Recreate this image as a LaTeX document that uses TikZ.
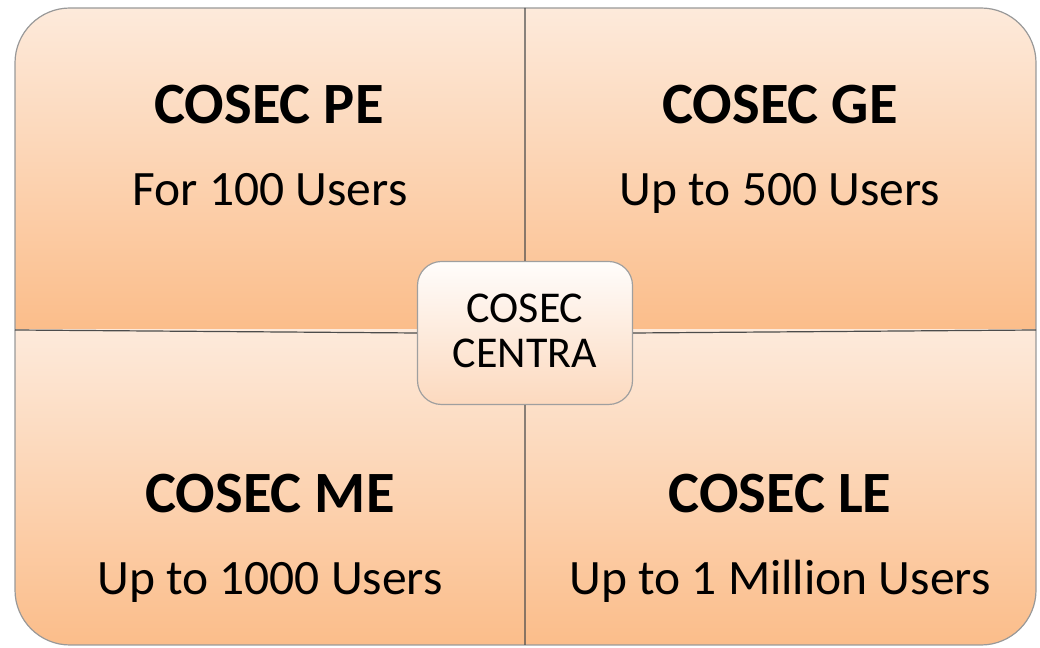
\documentclass[tikz,border=0pt]{standalone}
\usepackage{fontspec}
\setmainfont{Carlito}
\begin{document}
\begin{tikzpicture}[x=1pt,y=1pt,
  quad/.style={top color=qtop,bottom color=qbot,draw=none},
  title/.style={font=\fontsize{58.5}{62}\selectfont\bfseries,anchor=base},
  sub/.style={font=\fontsize{49.5}{54}\selectfont,anchor=base},
  ctext/.style={font=\fontsize{44}{48}\selectfont,anchor=base},
  centra/.style={draw=gray!75,line width=1.2pt,rounded corners=24pt,minimum width=215pt,minimum height=143pt,
     top color=white!90!qtop,bottom color=cbot}]
\definecolor{qtop}{HTML}{FDEADB}
\definecolor{qbot}{HTML}{FBBD8A}
\definecolor{cbot}{HTML}{FCD9BE}
\useasboundingbox (0,0) rectangle (1040,647);
\begin{scope}
  \clip[rounded corners=55pt] (15,2) rectangle (1036,639);
  \shade[quad] (15,317) rectangle (525,639);
  \shade[quad] (525,317) rectangle (1036,639);
  \shade[quad] (15,2) rectangle (525,317);
  \shade[quad] (525,2) rectangle (1036,317);
\end{scope}
\draw[gray!80,line width=1.2pt,rounded corners=55pt] (15,2) rectangle (1036,639);
\coordinate (L) at (15,317);
\coordinate (R) at (1036,317);
\coordinate (T) at (525,639);
\coordinate (B) at (525,2);
\node[centra] (c) at (525,314) {};
\draw[black!70,line width=1.2pt] (L) -- (c.west) (c.east) -- (R) (T) -- (c.north) (c.south) -- (B);
\node[ctext] (c1) at (525,324) {COSEC};
\node[ctext] (c2) at (525,279) {CENTRA};
\node[title] (pe) at (269,523) {COSEC PE};
\node[sub] (pes) at (270,441) {For 100 Users};
\node[title] (ge) at (780,523) {COSEC GE};
\node[sub] (ges) at (780,441) {Up to 500 Users};
\node[title] (me) at (270,134) {COSEC ME};
\node[sub] (mes) at (270,52) {Up to 1000 Users};
\node[title] (le) at (780,134) {COSEC LE};
\node[sub] (les) at (780,52) {Up to 1 Million Users};
\end{tikzpicture}
\end{document}
